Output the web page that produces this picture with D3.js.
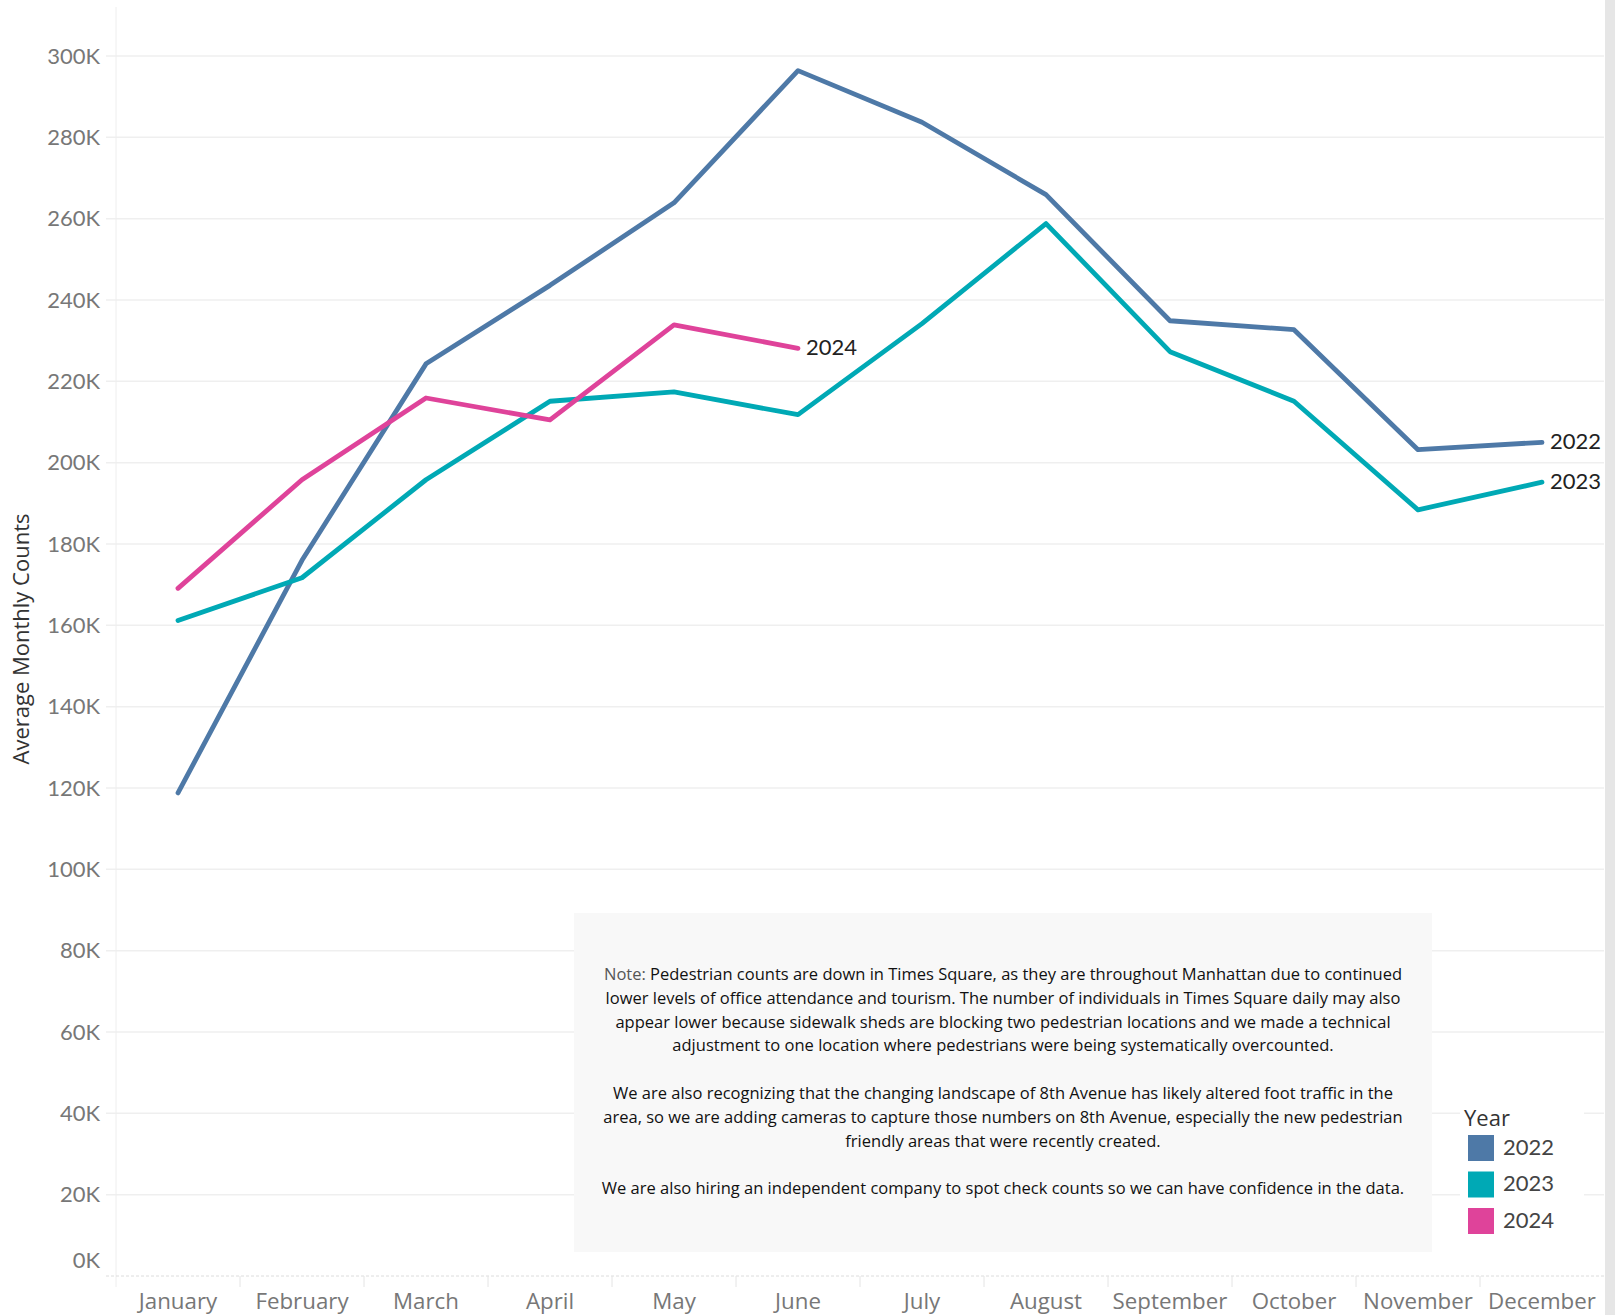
<!DOCTYPE html>
<html>
<head>
<meta charset="utf-8">
<script src="https://cdn.jsdelivr.net/npm/d3@7"></script>
<style>
  body { margin: 0; background: #fff; }
  svg { display: block; font-family: Lato, "Open Sans", sans-serif; }
</style>
</head>
<body>
<svg id="chart"></svg>
<script>
// months on the x axis
var months = ["January", "February", "March", "April", "May", "June",
              "July", "August", "September", "October", "November", "December"];

// average monthly pedestrian counts
var counts2022 = [118800, 176000, 224300, 243600, 263900, 296400, 283700, 265900, 234900, 232700, 203200, 205000];
var counts2023 = [161200, 171700, 195800, 215100, 217400, 211800, 234200, 258800, 227300, 215100, 188400, 195200];
var counts2024 = [169100, 195800, 215900, 210500, 233900, 228100];

var years = ["2022", "2023", "2024"];
var yearColors = ["#4e79a7", "#00a9b5", "#df439a"];

var yTicks = d3.range(0, 300001, 20000);

var noteLines = [
  "Pedestrian counts are down in Times Square, as they are throughout Manhattan due to continued",
  "lower levels of office attendance and tourism. The number of individuals in Times Square daily may also",
  "appear lower because sidewalk sheds are blocking two pedestrian locations and we made a technical",
  "adjustment to one location where pedestrians were being systematically overcounted.",
  "",
  "We are also recognizing that the changing landscape of 8th Avenue has likely altered foot traffic in the",
  "area, so we are adding cameras to capture those numbers on 8th Avenue, especially the new pedestrian",
  "friendly areas that were recently created.",
  "",
  "We are also hiring an independent company to spot check counts so we can have confidence in the data."
];

var screen = { width: 1621, height: 1315 };
var margins = { top: 7, left: 116, right: 1604, bottom: 1276 };
var wordFont = "'Open Sans', sans-serif";

var svg = d3.select("#chart")
  .attr("width", screen.width)
  .attr("height", screen.height);

var xScale = d3.scaleBand()
  .domain(months)
  .range([margins.left, margins.right]);

var yScale = d3.scaleLinear()
  .domain([0, 300000])
  .range([margins.bottom, 56]);

// gridlines
svg.append("g").selectAll("line")
  .data(yTicks.filter(function(d){ return d > 0; }))
  .enter().append("line")
  .attr("x1", 106).attr("x2", margins.right)
  .attr("y1", function(d){ return yScale(d); })
  .attr("y2", function(d){ return yScale(d); })
  .style("stroke", "#efefef")
  .style("stroke-width", 1.5);

// left axis line
svg.append("line")
  .attr("x1", margins.left).attr("x2", margins.left)
  .attr("y1", margins.top).attr("y2", margins.bottom + 11)
  .style("stroke", "#eeeeee")
  .style("stroke-width", 1);

// bottom axis (dashed) + ticks between months
svg.append("line")
  .attr("x1", 106).attr("x2", margins.right)
  .attr("y1", margins.bottom).attr("y2", margins.bottom)
  .style("stroke", "#dcdcdc")
  .style("stroke-dasharray", "3,2")
  .style("stroke-width", 1);

svg.append("g").selectAll("line")
  .data(months.slice(1))
  .enter().append("line")
  .attr("x1", function(d){ return xScale(d); })
  .attr("x2", function(d){ return xScale(d); })
  .attr("y1", margins.bottom).attr("y2", margins.bottom + 11)
  .style("stroke", "#e4e4e4");

// y tick labels
svg.append("g").selectAll("text")
  .data(yTicks)
  .enter().append("text")
  .text(function(d){ return (d / 1000) + "K"; })
  .attr("x", 100)
  .attr("y", function(d){ return d === 0 ? yScale(d) - 14 : yScale(d) + 2; })
  .attr("text-anchor", "end")
  .attr("dominant-baseline", "middle")
  .attr("font-size", 22)
  .attr("fill", "#777");

// x tick labels
svg.append("g").selectAll("text")
  .data(months)
  .enter().append("text")
  .text(function(d){ return d; })
  .attr("x", function(d){ return xScale(d) + xScale.bandwidth() / 2; })
  .attr("y", 1309)
  .attr("text-anchor", "middle")
  .attr("font-family", wordFont)
  .attr("font-size", 22.3)
  .attr("fill", "#777");

// y axis title
svg.append("text")
  .text("Average Monthly Counts")
  .attr("transform", "translate(29,639) rotate(-90)")
  .attr("text-anchor", "middle")
  .attr("font-family", wordFont)
  .attr("font-size", 22)
  .attr("fill", "#333");

// note box
svg.append("rect")
  .attr("x", 574).attr("y", 913)
  .attr("width", 858).attr("height", 339)
  .attr("fill", "#f8f8f8");

var note = svg.append("g");
noteLines.forEach(function(line, i){
  if (line === "") return;
  var t = note.append("text")
    .attr("x", 1003)
    .attr("y", 976 + i * 23.8)
    .attr("text-anchor", "middle")
    .attr("dominant-baseline", "middle")
    .attr("font-family", wordFont)
    .attr("font-size", 16.5)
    .attr("fill", "#111");
  if (i === 0) {
    t.append("tspan").text("Note: ").attr("fill", "#555");
  }
  t.append("tspan").text(line);
});

// lines
var lineDrawer = d3.line()
  .x(function(d, i){ return xScale(months[i]) + xScale.bandwidth() / 2; })
  .y(function(d){ return yScale(d); });

var series = [counts2022, counts2023, counts2024];
svg.append("g").selectAll("path")
  .data(series)
  .enter().append("path")
  .attr("d", lineDrawer)
  .attr("fill", "none")
  .style("stroke", function(d, i){ return yearColors[i]; })
  .style("stroke-width", 4.8)
  .style("stroke-linecap", "round")
  .style("stroke-linejoin", "round");

// end labels
svg.append("g").selectAll("text")
  .data(series)
  .enter().append("text")
  .text(function(d, i){ return years[i]; })
  .attr("x", function(d){ return xScale(months[d.length - 1]) + xScale.bandwidth() / 2 + 8; })
  .attr("y", function(d){ return yScale(d[d.length - 1]) + 1; })
  .attr("dominant-baseline", "middle")
  .attr("font-size", 22)
  .attr("fill", "#222");

// legend
svg.append("rect")
  .attr("x", 1460).attr("y", 1095)
  .attr("width", 124).attr("height", 150)
  .attr("fill", "#fff");

svg.append("text")
  .text("Year")
  .attr("x", 1464).attr("y", 1126)
  .attr("font-family", wordFont)
  .attr("font-size", 22)
  .attr("fill", "#333");

var legend = svg.append("g").selectAll("g")
  .data(years)
  .enter().append("g")
  .attr("transform", function(d, i){ return "translate(1468," + (1135 + i * 36.5) + ")"; });

legend.append("rect")
  .attr("width", 26).attr("height", 26)
  .attr("fill", function(d, i){ return yearColors[i]; });

legend.append("text")
  .text(function(d){ return d; })
  .attr("x", 35).attr("y", 14)
  .attr("dominant-baseline", "middle")
  .attr("font-size", 22)
  .attr("fill", "#444");

// scrollbar strip on the right
svg.append("rect")
  .attr("x", 1605).attr("y", 0)
  .attr("width", 10).attr("height", screen.height)
  .attr("fill", "#e6e6e6");
</script>
</body>
</html>
